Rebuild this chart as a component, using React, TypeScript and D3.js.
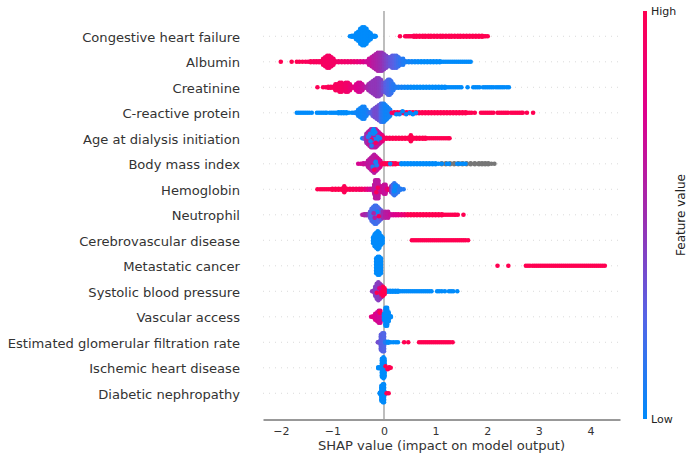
import * as React from "react";
import { useEffect, useRef } from "react";
import * as d3 from "d3";

// one bin = [shap value, feature level (0 low, 1 high, -1 missing), stacked layers each side, layer shift]
type Bin = [number, number, number?, number?];

const featureNames = [
  "Congestive heart failure",
  "Albumin",
  "Creatinine",
  "C-reactive protein",
  "Age at dialysis initiation",
  "Body mass index",
  "Hemoglobin",
  "Neutrophil",
  "Cerebrovascular disease",
  "Metastatic cancer",
  "Systolic blood pressure",
  "Vascular access",
  "Estimated glomerular filtration rate",
  "Ischemic heart disease",
  "Diabetic nephropathy",
];

const xTicks = [-2, -1, 0, 1, 2, 3, 4];

const heartFailure: Bin[] = [
  [-0.66, 0], [-0.62, 0, 1], [-0.58, 0, 1], [-0.54, 0, 2], [-0.5, 0, 3], [-0.46, 0, 5], [-0.42, 0, 6], [-0.38, 0, 6],
  [-0.34, 0, 5], [-0.3, 0, 3], [-0.26, 0, 2], [-0.22, 0, 1], [-0.18, 0, 1], [-0.16, 0],
  [0.31, 1], [0.41, 0.98], [0.44, 0.98], [0.47, 0.98], [0.5, 0.98], [0.53, 1], [0.58, 0.98, 1], [0.63, 1, 1], [0.69, 1, 1], [0.75, 1, 1], [0.8, 1, 1], [0.86, 1, 1],
  [0.91, 1, 1], [0.97, 1, 1], [1.03, 1, 1], [1.09, 1, 1], [1.14, 1, 1], [1.2, 1, 1], [1.26, 1, 1], [1.31, 1, 1], [1.37, 1, 1], [1.43, 1, 1],
  [1.48, 1, 1], [1.54, 1, 1], [1.6, 1, 1], [1.66, 1, 1], [1.72, 1, 1], [1.78, 1, 1], [1.84, 1, 1], [1.9, 1, 1], [1.94, 1], [1.97, 1], [2.01, 1],
];

const albumin: Bin[] = [
  [-2.0, 1], [-1.79, 1], [-1.69, 1], [-1.64, 0.98], [-1.58, 0.98], [-1.52, 0.96], [-1.47, 0.95], [-1.42, 0.96, 1], [-1.36, 0.95, 1],
  [-1.31, 0.95, 1], [-1.26, 0.95, 1], [-1.22, 0.94, 1], [-1.18, 0.94, 2], [-1.14, 0.93, 3], [-1.1, 0.93, 4], [-1.06, 0.93, 4],
  [-1.02, 0.92, 3], [-0.98, 0.92, 2], [-0.94, 0.92, 1], [-0.88, 0.9, 1], [-0.82, 0.9, 1], [-0.76, 0.9, 1], [-0.7, 0.88, 1],
  [-0.64, 0.88, 1], [-0.58, 0.86, 1], [-0.52, 0.84, 1], [-0.46, 0.8, 1], [-0.4, 0.76, 1], [-0.34, 0.7, 1], [-0.29, 0.68, 2],
  [-0.24, 0.64, 3], [-0.2, 0.6, 4], [-0.16, 0.58, 5], [-0.12, 0.55, 6], [-0.08, 0.52, 6], [-0.04, 0.48, 6], [0, 0.44, 5],
  [0.04, 0.4, 4], [0.08, 0.36, 3], [0.12, 0.32, 3], [0.16, 0.28, 4], [0.2, 0.26, 4], [0.24, 0.22, 4], [0.28, 0.18, 3],
  [0.32, 0.14, 2], [0.37, 0.1, 2], [0.42, 0.08, 1], [0.48, 0.05, 1], [0.54, 0.04, 1], [0.6, 0.02, 1], [0.66, 0.02, 1],
  [0.72, 0, 1], [0.78, 0, 1], [0.84, 0, 1], [0.9, 0, 1], [0.96, 0, 1], [1.02, 0, 1], [1.08, 0, 1], [1.12, 0], [1.16, 0], [1.2, 0], [1.24, 0],
  [1.28, 0], [1.32, 0], [1.36, 0], [1.4, 0], [1.44, 0], [1.48, 0], [1.52, 0], [1.56, 0], [1.6, 0], [1.64, 0], [1.68, 0],
];

const creatinine: Bin[] = [
  [-1.29, 0.98], [-1.18, 0.98], [-1.13, 0.97], [-1.08, 0.97, 1], [-1.03, 0.96, 1], [-0.98, 0.96, 1], [-0.94, 0.95, 2],
  [-0.9, 0.94, 2], [-0.86, 0.95, 3], [-0.82, 0.93, 3], [-0.78, 0.92, 2], [-0.74, 0.9, 3], [-0.7, 0.9, 3], [-0.66, 0.86, 2],
  [-0.62, 0.82, 1], [-0.58, 0.8, 1], [-0.54, 0.76, 2], [-0.5, 0.74, 3], [-0.46, 0.72, 3], [-0.42, 0.68, 2], [-0.38, 0.64, 1],
  [-0.34, 0.58, 1], [-0.3, 0.52, 2], [-0.26, 0.48, 3], [-0.22, 0.46, 4], [-0.18, 0.46, 5], [-0.14, 0.46, 6], [-0.1, 0.44, 6],
  [-0.06, 0.42, 5], [-0.02, 0.36, 3], [0.02, 0.3, 3], [0.05, 0.26, 4], [0.08, 0.22, 5], [0.11, 0.2, 5], [0.14, 0.16, 4],
  [0.18, 0.12, 2], [0.23, 0.1, 1], [0.28, 0.08, 1], [0.34, 0.06, 1], [0.4, 0.04, 1], [0.46, 0.03, 1], [0.52, 0.02, 1],
  [0.58, 0, 1], [0.64, 0, 1], [0.7, 0, 1], [0.76, 0, 1], [0.82, 0, 1], [0.88, 0, 1], [0.94, 0, 1], [1.0, 0, 1], [1.06, 0, 1],
  [1.12, 0, 1], [1.18, 0, 1], [1.22, 0], [1.26, 0], [1.3, 0], [1.34, 0], [1.38, 0], [1.42, 0], [1.46, 0], [1.5, 0], [1.62, 0], [1.73, 0], [1.77, 0],
  [1.81, 0], [1.85, 0], [1.92, 0], [1.96, 0], [2.0, 0], [2.04, 0], [2.08, 0], [2.12, 0], [2.17, 0], [2.21, 0], [2.25, 0], [2.29, 0], [2.33, 0], [2.38, 0], [2.42, 0],
];

const crp: Bin[] = [
  [-1.69, 0], [-1.65, 0], [-1.61, 0], [-1.57, 0], [-1.53, 0], [-1.49, 0], [-1.45, 0], [-1.4, 0], [-1.3, 0], [-1.26, 0], [-1.22, 0], [-1.18, 0], [-1.14, 0], [-1.11, 0],
  [-1.05, 0], [-1.01, 0], [-0.97, 0], [-0.93, 0], [-0.88, 0, 1], [-0.83, 0, 1], [-0.78, 0, 1], [-0.73, 0, 1], [-0.68, 0], [-0.62, 0],
  [-0.58, 0.02], [-0.54, 0.04, 1], [-0.5, 0.04, 2], [-0.46, 0.04, 3], [-0.42, 0.04, 4], [-0.38, 0.05, 4], [-0.34, 0.06, 2],
  [-0.3, 0.1, 1], [-0.26, 0.18, 1], [-0.22, 0.3, 2], [-0.18, 0.36, 3], [-0.14, 0.36, 4], [-0.1, 0.34, 5], [-0.06, 0.22, 6],
  [-0.03, 0.12, 6], [0, 0.08, 6], [0.03, 0.05, 5], [0.06, 0.04, 4], [0.09, 0.05, 3], [0.12, 0.06, 2],
  [0.15, 0.9], [0.2, 0.96, 1], [0.26, 0.98, 1], [0.32, 0.98, 1], [0.38, 1, 1], [0.44, 1, 1], [0.5, 1, 1], [0.56, 1, 1], [0.62, 1, 1],
  [0.68, 1, 1], [0.74, 1, 1], [0.8, 1, 1], [0.86, 1, 1], [0.92, 1, 1], [0.98, 1, 1], [1.04, 1, 1], [1.1, 1, 1], [1.16, 1, 1], [1.22, 1, 1],
  [1.28, 1, 1], [1.34, 1, 1], [1.4, 1, 1], [1.46, 1, 1], [1.52, 1, 1], [1.58, 1, 1], [1.62, 1], [1.66, 1], [1.7, 1], [1.76, 1], [1.88, 1], [1.92, 1], [1.96, 1], [2.0, 1],
  [2.04, 1], [2.08, 1], [2.12, 1], [2.2, 1], [2.24, 1], [2.28, 1], [2.32, 1], [2.36, 1], [2.4, 1], [2.46, 1], [2.5, 1], [2.54, 1], [2.58, 1], [2.62, 1], [2.66, 1], [2.69, 1],
  [2.77, 1], [2.89, 1],
  [0.24, 0, 0, 1], [0.3, 0.05, 0, 1], [0.36, 0, 0, -1], [0.43, 0.02, 0, 1], [0.5, 0], [0.56, 0, 0, 1], [0.62, 0],
];

const age: Bin[] = [
  [-0.42, 0.02], [-0.38, 0.3, 1], [-0.34, 0.5, 3], [-0.31, 0.55, 4], [-0.28, 0.62, 5], [-0.25, 0.58, 6], [-0.22, 0.55, 6],
  [-0.19, 0.6, 6], [-0.16, 0.62, 6], [-0.13, 0.6, 5], [-0.1, 0.62, 4], [-0.07, 0.7, 3], [-0.03, 0.82, 2],
  [0, 0.92, 1], [0.05, 0.96, 1], [0.11, 0.98, 1], [0.17, 1, 1], [0.23, 1, 1], [0.29, 1, 1], [0.35, 1, 1], [0.41, 1, 1], [0.47, 1, 1],
  [0.52, 1, 2], [0.57, 1, 1], [0.63, 1, 1], [0.69, 1, 1], [0.75, 1, 1], [0.8, 1, 1], [0.84, 1], [0.88, 1], [0.92, 1], [0.96, 1], [1.0, 1], [1.04, 1],
  [1.08, 1], [1.12, 1], [1.16, 1], [1.2, 1], [1.24, 1], [1.27, 1],
  [-0.24, 0.1, 0, 5], [-0.27, 0.05, 0, -3], [-0.22, 0.02, 0, -5], [-0.2, 0, 0, -6], [-0.18, 0.1, 1, 1], [-0.13, 0.05, 0, 1], [-0.3, 0.12, 1, -1],
  [-0.2, 0.05, 0, -3], [-0.08, 0.05], [-0.16, 0.92, 0, 3], [-0.24, 0.95, 0, 1], [-0.12, 0.08, 0, -1], [-0.17, 0, 0, -4], [-0.26, 0.02, 0, 2],
];

const bmi: Bin[] = [
  [1.12, -1, 1], [1.2, -1, 1], [1.28, -1, 1], [1.36, -1, 1], [1.44, -1, 1], [1.52, -1, 1], [1.6, -1, 1], [1.68, -1, 1], [1.76, -1, 1],
  [1.84, -1, 1], [1.9, -1, 1], [1.96, -1, 1], [2.02, -1, 1], [2.08, -1], [2.14, -1],
  [-0.5, 0.72], [-0.45, 0.72], [-0.4, 0.68, 1], [-0.35, 0.66, 1], [-0.31, 0.62, 2], [-0.28, 0.62, 3], [-0.25, 0.6, 4], [-0.22, 0.62, 5],
  [-0.19, 0.6, 6], [-0.16, 0.62, 5], [-0.13, 0.66, 4], [-0.1, 0.68, 3], [-0.07, 0.76, 2],
  [-0.03, 0.94, 1], [0.02, 1, 1], [0.07, 1, 1], [0.12, 0.98, 1], [0.17, 1, 1], [0.22, 1, 1], [0.27, 1], [0.31, 1],
  [0.34, 0, 1], [0.4, 0, 1], [0.46, 0, 1], [0.52, 0, 1], [0.58, 0, 1], [0.64, 0, 1], [0.7, 0, 1], [0.76, 0, 1], [0.82, 0, 1], [0.88, 0, 1],
  [0.94, 0, 1], [1.0, 0, 1], [1.06, 0], [1.12, 0], [1.22, 0], [1.26, 0], [1.42, 0], [1.48, 0], [1.54, 0], [1.58, 0],
  [0.12, 0.02, 0], [-0.22, 0.08, 0, 2], [-0.16, 0.05, 1, -1], [-0.19, 0.95, 0, 4], [-0.14, 0.1, 0, 1],
];

const hemoglobin: Bin[] = [
  [-1.29, 1], [-1.24, 1], [-1.2, 1], [-1.16, 1], [-1.12, 1], [-1.08, 1], [-1.04, 1], [-1.0, 1, 1], [-0.94, 1, 1], [-0.88, 1, 1], [-0.82, 1, 1], [-0.77, 0.98, 2],
  [-0.72, 1, 1], [-0.66, 0.98, 1], [-0.6, 0.98, 1], [-0.54, 0.96, 1], [-0.48, 0.94, 1], [-0.43, 0.92, 1], [-0.37, 0.88, 1], [-0.32, 0.8, 1],
  [-0.27, 0.72, 1], [-0.22, 0.66, 1], [-0.19, 0.62, 3], [-0.17, 0.62, 6], [-0.14, 0.6, 6], [-0.11, 0.62, 6], [-0.08, 0.64, 2],
  [-0.04, 0.7, 2], [0, 0.64, 3], [0.03, 0.66, 3], [0.06, 0.8, 1], [0.1, 0.92, 1], [0.14, 0.5, 2], [0.17, 0.2, 3],
  [0.2, 0.14, 4], [0.23, 0.14, 3], [0.27, 0.12, 2], [0.32, 0.1, 1], [0.38, 0.1],
  [-0.15, 0.95, 0, 2], [-0.12, 0.95, 0, -1], [0.2, 0.02, 1, 1], [0.22, 0.02, 1, -2],
];

const neutrophil: Bin[] = [
  [-0.42, 0.6], [-0.38, 0.56, 1], [-0.34, 0.52, 1], [-0.3, 0.46, 1], [-0.27, 0.3, 2], [-0.24, 0.22, 4], [-0.21, 0.2, 5], [-0.18, 0.18, 6],
  [-0.15, 0.18, 6], [-0.12, 0.2, 5], [-0.09, 0.22, 4], [-0.06, 0.3, 3], [-0.02, 0.5, 2], [0.03, 0.6, 2], [0.08, 0.62, 2], [0.13, 0.68, 1],
  [0.18, 0.72, 1], [0.23, 0.76, 1], [0.28, 0.78, 1], [0.34, 0.82, 1], [0.4, 0.86, 1], [0.46, 0.96, 1], [0.52, 1, 1], [0.58, 1, 1],
  [0.64, 1, 1], [0.7, 1, 1], [0.76, 1, 1], [0.82, 1, 1], [0.88, 1, 1], [0.94, 1, 1], [1.0, 1, 1], [1.06, 1, 1], [1.12, 1, 1], [1.16, 1],
  [1.2, 1], [1.24, 1], [1.28, 1], [1.32, 1], [1.36, 1], [1.39, 1], [1.43, 1], [1.54, 1],
  [-0.18, 0.6, 0, 2], [-0.13, 0.02, 0, -2], [-0.1, 0.95, 0, 1], [-0.2, 0.55, 0, -1],
];

const cerebrovascular: Bin[] = [
  [-0.21, 0, 2], [-0.18, 0, 4], [-0.15, 0, 5], [-0.12, 0, 6], [-0.09, 0, 5], [-0.06, 0, 3], [-0.03, 0, 2],
  [0.54, 1], [0.58, 1], [0.62, 1], [0.66, 1], [0.7, 1], [0.74, 1], [0.78, 1], [0.82, 1], [0.86, 1], [0.9, 1], [0.94, 1], [0.98, 1], [1.02, 1],
  [1.06, 1], [1.1, 1], [1.14, 1], [1.18, 1], [1.22, 1], [1.26, 1], [1.3, 1], [1.34, 1], [1.38, 1], [1.42, 1], [1.46, 1], [1.5, 1], [1.54, 1], [1.58, 1], [1.63, 1],
];

const metastatic: Bin[] = [
  [-0.15, 0, 5], [-0.12, 0, 6], [-0.09, 0, 6], [-0.06, 0, 5],
  [2.2, 1], [2.41, 1], [2.75, 1], [2.79, 1], [2.83, 1], [2.88, 1], [2.92, 1], [2.96, 1], [3.0, 1], [3.04, 1], [3.08, 1], [3.12, 1], [3.16, 1], [3.2, 1], [3.24, 1],
  [3.28, 1], [3.32, 1], [3.36, 1], [3.4, 1], [3.44, 1], [3.48, 1], [3.52, 1], [3.56, 1], [3.6, 1], [3.64, 1], [3.68, 1], [3.72, 1], [3.76, 1], [3.8, 1], [3.84, 1],
  [3.88, 1], [3.92, 1], [3.96, 1], [4.0, 1], [4.04, 1], [4.08, 1], [4.12, 1], [4.16, 1], [4.2, 1], [4.24, 1], [4.28, 1],
];

const bloodPressure: Bin[] = [
  [-0.23, 0.45], [-0.2, 0.45, 1], [-0.17, 0.42, 3], [-0.14, 0.42, 5], [-0.11, 0.42, 6], [-0.08, 0.44, 5], [-0.05, 0.5, 4],
  [0.02, 0, 1], [0.07, 0, 1], [0.12, 0, 1], [0.17, 0, 1], [0.22, 0, 1], [0.27, 0, 1], [0.32, 0], [0.36, 0], [0.4, 0], [0.44, 0], [0.48, 0], [0.52, 0],
  [0.56, 0], [0.6, 0], [0.64, 0], [0.68, 0], [0.72, 0], [0.76, 0], [0.8, 0], [0.84, 0], [0.88, 0], [0.92, 0], [1.03, 0], [1.07, 0], [1.12, 0], [1.18, 0], [1.26, 0], [1.3, 0], [1.34, 0], [1.42, 0],
  [-0.05, 0.95, 2, 0], [-0.02, 1, 3], [0.01, 1, 2], [-0.14, 1, 0, 1], [-0.09, 0.8, 0, -2],
];

const vascularAccess: Bin[] = [
  [-0.25, 0.8], [-0.21, 0.78, 1], [-0.17, 0.76, 2], [-0.13, 0.72, 3], [-0.1, 0.7, 4], [-0.07, 0.7, 4], [-0.08, 0.98, 1, -3],
  [0, 0, 2], [0.03, 0, 6], [0.06, 0, 6], [0.09, 0, 3], [0.13, 0, 1],
];

const egfr: Bin[] = [
  [-0.12, 0.35], [-0.09, 0.35, 1], [-0.06, 0.28, 5], [-0.03, 0.26, 6], [0, 0.24, 6], [0.03, 0.1, 1], [0.08, 0, 1], [0.13, 0], [0.18, 0],
  [0.23, 0], [0.27, 0], [0.39, 1], [0.47, 1], [0.68, 1], [0.72, 1], [0.76, 1], [0.8, 1], [0.84, 1], [0.88, 1], [0.92, 1], [0.96, 1], [1.0, 1], [1.04, 1], [1.08, 1],
  [1.12, 1], [1.16, 1], [1.2, 1], [1.24, 1], [1.28, 1], [1.33, 1],
];

const ischemic: Bin[] = [
  [-0.11, 0, 1], [-0.07, 0, 1], [-0.04, 0, 6], [-0.01, 0, 7], [0.01, 0, 6],
  [0.03, 1, 0, -1], [0.07, 1, 0, 1], [0.1, 1, 1], [0.13, 1],
];

const nephropathy: Bin[] = [
  [-0.08, 0, 1], [-0.05, 0, 5], [-0.02, 0, 6], [0, 0, 6], [0.03, 0, 1], [0.05, 1], [0.09, 1],
];

const featureBins = [
  heartFailure, albumin, creatinine, crp, age, bmi, hemoglobin, neutrophil,
  cerebrovascular, metastatic, bloodPressure, vascularAccess, egfr, ischemic, nephropathy,
];

const colorStops = ["#008bfb", "#5564e6", "#9d2daf", "#de008c", "#ff0051"];

const WIDTH = 696;
const HEIGHT = 460;
const LAYER = 1.5;
const THIN_LAYER = 0.5;
const textColor = "#333333";

const x = d3.scaleLinear().domain([-2.345, 4.574]).range([263, 620]);
const y = d3.scalePoint<string>().domain(featureNames).range([36.3, 393.3]);
const level = d3.scaleLinear<string>()
  .domain([0, 0.25, 0.5, 0.75, 1])
  .range(colorStops);
const colorAxis = d3.scaleLinear().domain([0, 1]).range([419, 11]);
const gradientStops = [0, 0.25, 0.5, 0.75, 1];

export default function App() {
  const axisRef = useRef<SVGGElement>(null);

  useEffect(() => {
    if (!axisRef.current) return;
    const axis = d3.axisBottom(x)
      .tickValues(xTicks)
      .tickFormat(d3.format("d"))
      .tickSize(0)
      .tickPadding(8);
    const g = d3.select(axisRef.current).call(axis);
    g.select(".domain").attr("stroke", textColor).attr("stroke-width", 1);
    g.selectAll("text")
      .attr("fill", textColor)
      .attr("font-size", 11)
      .attr("font-family", "DejaVu Sans");
  }, []);

  return (
    <svg
      width={WIDTH}
      height={HEIGHT}
      style={{ position: "absolute", left: 0, top: 0, background: "#fff" }}
      fontFamily="DejaVu Sans"
    >
      <defs>
        <linearGradient id="redBlue" x1="0" x2="0" y1="1" y2="0">
          {gradientStops.map((t) => (
            <stop key={t} offset={t} stopColor={level(t)} />
          ))}
        </linearGradient>
      </defs>

      {/* row guides */}
      {featureNames.map((name) => (
        <line
          key={name}
          x1={263}
          x2={620}
          y1={y(name)}
          y2={y(name)}
          stroke="#cccccc"
          strokeWidth={0.7}
          strokeDasharray="1,5"
        />
      ))}
      <line x1={x(0)} x2={x(0)} y1={colorAxis(1)} y2={419} stroke="#a8a8a8" strokeWidth={1.5} />

      {/* swarm */}
      {featureNames.map((name, i) =>
        featureBins[i].map(([shap, lvl, stack = 0, lift = 0], j) =>
          d3.range(-stack, stack + 1).map((k) => (
            <circle
              key={`${name}-${j}-${k}`}
              cx={x(shap)}
              cy={(y(name) as number) + k * (stack === 1 ? THIN_LAYER : LAYER) + lift * LAYER}
              r={2.3}
              fill={lvl < 0 ? "#777777" : level(lvl)}
            />
          ))
        )
      )}

      {/* feature names */}
      {featureNames.map((name) => (
        <text
          key={name}
          x={240}
          y={(y(name) as number) + 0.8}
          dy="0.36em"
          textAnchor="end"
          fontSize={13.1}
          fill={textColor}
        >
          {name}
        </text>
      ))}

      <g ref={axisRef} transform="translate(0,419.5)" />
      <text x={441.5} y={450} textAnchor="middle" fontSize={13.1} fill={textColor}>
        SHAP value (impact on model output)
      </text>

      {/* colorbar */}
      <rect
        x={643}
        y={colorAxis(1)}
        width={4}
        height={colorAxis(0) - colorAxis(1)}
        fill="url(#redBlue)"
      />
      <text x={651} y={colorAxis(1)} dy="0.36em" fontSize={11} fill="#222">High</text>
      <text x={651} y={colorAxis(0)} dy="0.36em" fontSize={11} fill="#222">Low</text>
      <text
        transform={`translate(681,${colorAxis(0.5)}) rotate(-90)`}
        textAnchor="middle"
        fontSize={12}
        dy="0.36em"
        fill="#222"
      >
        Feature value
      </text>
    </svg>
  );
}
